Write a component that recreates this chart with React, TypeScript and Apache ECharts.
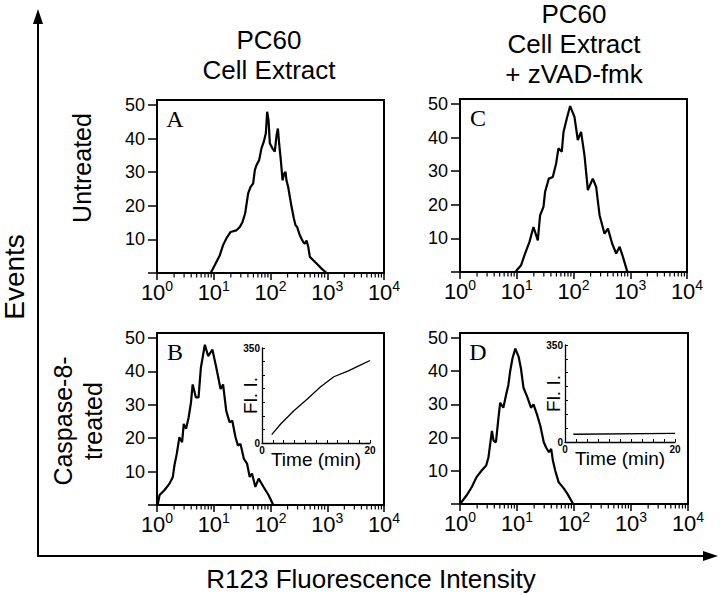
import React, { useEffect, useRef } from "react";
import * as echarts from "echarts";

// ---------- DATA ----------
// Panel A: PC60 cell extract, untreated
const intensityA = [8.85, 10.4, 12.8, 14.6, 17.2, 19.7, 25.1, 28.8, 32.1, 35.7, 40.4, 44.4, 49.4, 53.0, 56.6, 63.1, 69.3, 76.2, 82.8, 87.3, 92.3, 97.3, 108, 119, 128, 135, 142, 152, 163, 174, 184, 191, 205, 219, 235, 258, 276, 295, 321, 352, 377, 404, 432, 462, 494, 566, 649, 794, 973];
const eventsA = [0, 2.3, 5.3, 8.3, 10.7, 12.2, 12.7, 13.7, 15.2, 17.7, 23.7, 25.6, 26.6, 30.6, 32.1, 33.6, 37.1, 39.1, 41.6, 48.0, 45.5, 38.6, 37.1, 36.1, 41.1, 43.0, 38.6, 33.6, 27.6, 29.6, 30.1, 27.6, 25.6, 22.7, 19.7, 16.2, 14.2, 13.7, 11.7, 10.2, 9.2, 8.7, 9.7, 7.8, 4.8, 3.8, 2.8, 1.3, 0];

// Panel B: PC60 cell extract, caspase-8-treated
const intensityB = [1.0, 1.04, 1.11, 1.36, 1.66, 1.9, 2.03, 2.23, 2.48, 2.77, 2.96, 3.25, 3.61, 3.97, 4.25, 4.85, 5.4, 5.93, 6.97, 7.96, 9.48, 11.1, 13.2, 14.6, 16.6, 19.0, 21.2, 24.2, 26.6, 29.6, 33.8, 38.6, 43.0, 47.2, 54.1, 61.8, 75.5, 92.3, 108, 113];
const eventsB = [0, 0.5, 3.0, 4.5, 6.4, 8.4, 11.9, 15.3, 20.3, 18.8, 24.3, 22.8, 26.2, 30.7, 36.1, 32.2, 32.2, 41.1, 48.0, 44.6, 46.5, 41.1, 34.7, 36.1, 28.2, 24.8, 25.2, 20.3, 17.8, 18.3, 13.9, 12.4, 8.4, 9.4, 5.4, 7.9, 5.4, 3.0, 0.5, 0];

// Panel C: PC60 cell extract + zVAD-fmk, untreated
const intensityC = [9.5, 10, 11.9, 13.7, 16.7, 19.7, 23.5, 25.8, 29.6, 31.6, 36.7, 43.2, 49.4, 54.3, 62.2, 66.7, 76.2, 87.3, 104, 119, 136, 156, 179, 219, 251, 288, 352, 404, 481, 566, 649, 743, 873, 910];
const eventsC = [0, 0.5, 2.0, 5.0, 8.9, 13.4, 9.4, 16.9, 19.4, 23.9, 27.8, 28.3, 32.3, 36.8, 35.8, 41.7, 45.7, 49.4, 46.2, 39.3, 41.7, 34.8, 24.4, 27.8, 25.3, 16.9, 11.4, 12.9, 8.4, 5.5, 7.5, 4.5, 0.5, 0];

// Panel D: PC60 cell extract + zVAD-fmk, caspase-8-treated
const intensityD = [1.0, 1.32, 1.62, 1.95, 2.4, 2.88, 3.16, 3.63, 3.89, 4.27, 4.73, 5.07, 5.75, 6.46, 7.08, 7.59, 8.32, 9.33, 10.7, 11.7, 13.0, 15.0, 17.6, 19.5, 22.4, 25.7, 29.5, 32.4, 36.3, 39.8, 42.7, 46.8, 53.7, 66.1, 75.9, 96.6];
const eventsD = [0, 2.7, 5.2, 8.1, 10.1, 11.6, 14.1, 22.0, 19.0, 18.6, 26.0, 30.5, 29.0, 33.0, 36.0, 40.0, 43.8, 46.8, 44.3, 40.9, 35.0, 32.4, 29.0, 30.0, 27.0, 23.5, 18.6, 17.0, 15.6, 16.6, 13.0, 10.1, 6.6, 4.7, 3.2, 0];

// Insets: fluorescence intensity vs time
const timeB = [1.8, 3.5, 5.9, 8.4, 10.8, 13.3, 16.0, 18.2, 20];
const fluorB = [31, 71, 119, 162, 206, 244, 266, 287, 304];
const timeD = [1.5, 20];
const fluorD = [28, 31];

// Tick values / labels
const eventTicks = [0, 10, 20, 30, 40, 50];
const eventLabels = [10, 20, 30, 40, 50];
const decades = [1, 10, 100, 1000];
const minorFactors = [2, 3, 4, 5, 6, 7, 8, 9];
const insetTimeLabels = [0, 20];
const insetFluorLabels = [0, 350];

const panelLetters = ["A", "B", "C", "D"];
const leftHeader = ["PC60", "Cell Extract"];
const rightHeader = ["PC60", "Cell Extract", "+ zVAD-fmk"];

const SANS = "'Liberation Sans', Arial, Helvetica, sans-serif";
const SERIF = "'Liberation Serif', 'Times New Roman', serif";

const minorTicks: number[] = [];
decades.forEach((d) => minorFactors.forEach((f) => minorTicks.push(d * f)));

function pairs(xs: number[], ys: number[]) {
  return xs.map((x, i) => [x, ys[i]]);
}

export default function App() {
  const ref = useRef<HTMLDivElement>(null);

  useEffect(() => {
    if (!ref.current) return;
    const chart = echarts.init(ref.current, undefined, { renderer: "svg" });

    const panels = [
      { letter: panelLetters[0], grid: { left: 157, top: 100, width: 227, height: 173 }, x: intensityA, y: eventsA },
      { letter: panelLetters[1], grid: { left: 157, top: 333, width: 227, height: 172 }, x: intensityB, y: eventsB },
      { letter: panelLetters[2], grid: { left: 460, top: 99, width: 227, height: 173 }, x: intensityC, y: eventsC },
      { letter: panelLetters[3], grid: { left: 460, top: 333, width: 228, height: 171 }, x: intensityD, y: eventsD },
    ];
    const insets = [
      { grid: { left: 262, top: 348, width: 108, height: 95 }, x: timeB, y: fluorB },
      { grid: { left: 565, top: 345, width: 110, height: 97 }, x: timeD, y: fluorD },
    ];

    const grids: any[] = [];
    const xAxes: any[] = [];
    const yAxes: any[] = [];
    const series: any[] = [];

    panels.forEach((p, i) => {
      grids.push({ ...p.grid, show: true, borderColor: "#000", borderWidth: 2, backgroundColor: "transparent" });
      xAxes.push({
        gridIndex: i,
        type: "log",
        logBase: 10,
        min: 1,
        max: 10000,
        axisLine: { lineStyle: { color: "#000", width: 2 } },
        axisTick: { length: 7, lineStyle: { color: "#000", width: 1.5 } },
        splitLine: { show: false },
        minorTick: { show: false },
        axisLabel: {
          margin: 6,
          formatter: (v: number) => `{b|10}{s|${Math.round(Math.log10(v))}}`,
          rich: {
            b: { fontSize: 22, fontFamily: SANS, color: "#000", lineHeight: 26 },
            s: { fontSize: 14, fontFamily: SANS, color: "#000", lineHeight: 14, verticalAlign: "top" },
          },
        },
      });
      yAxes.push({
        gridIndex: i,
        type: "value",
        min: 0,
        max: 51.5,
        interval: 10,
        axisLine: { show: true, lineStyle: { color: "#000", width: 2 } },
        axisTick: { show: true, length: 9, customValues: eventTicks, lineStyle: { color: "#000", width: 1.5 } },
        splitLine: { show: false },
        axisLabel: {
          customValues: eventLabels,
          margin: 12,
          fontSize: 18,
          fontFamily: SANS,
          color: "#000",
        },
      });
      series.push({
        type: "line",
        xAxisIndex: i,
        yAxisIndex: i,
        data: pairs(p.x, p.y),
        showSymbol: false,
        symbol: "none",
        lineStyle: { color: "#000", width: 2.2 },
        silent: true,
      });
      series.push({
        type: "custom",
        xAxisIndex: i,
        yAxisIndex: i,
        silent: true,
        clip: false,
        data: minorTicks.map((v) => [v, 0]),
        renderItem: (_params: any, api: any) => {
          const pt = api.coord([api.value(0), api.value(1)]);
          return {
            type: "line",
            shape: { x1: pt[0], y1: pt[1], x2: pt[0], y2: pt[1] + 4.5 },
            style: { stroke: "#000", lineWidth: 1.2 },
          };
        },
      });
    });

    insets.forEach((ins, k) => {
      const gi = panels.length + k;
      grids.push({ ...ins.grid, show: false });
      xAxes.push({
        gridIndex: gi,
        type: "value",
        min: 0,
        max: 20,
        interval: 2,
        name: "Time (min)",
        nameLocation: "middle",
        nameGap: 7,
        nameMoveOverlap: false,
        nameTextStyle: { fontSize: 19, fontFamily: SANS, color: "#000", verticalAlign: "top" },
        axisLine: { lineStyle: { color: "#000", width: 1.3 } },
        axisTick: { inside: true, length: 3, lineStyle: { color: "#000", width: 1 } },
        splitLine: { show: false },
        axisLabel: {
          customValues: insetTimeLabels,
          margin: 2,
          fontSize: 10,
          fontWeight: "bold",
          fontFamily: SANS,
          color: "#000",
        },
      });
      yAxes.push({
        gridIndex: gi,
        type: "value",
        min: 0,
        max: 350,
        interval: 50,
        name: "Fl. I.",
        nameLocation: "middle",
        nameRotate: 90,
        nameGap: 2,
        nameMoveOverlap: false,
        nameTextStyle: { fontSize: 19, fontFamily: SANS, color: "#000" },
        axisLine: { show: true, lineStyle: { color: "#000", width: 1.3 } },
        axisTick: { show: true, inside: true, length: 3, lineStyle: { color: "#000", width: 1 } },
        splitLine: { show: false },
        axisLabel: {
          customValues: insetFluorLabels,
          margin: 2,
          fontSize: 10,
          fontWeight: "bold",
          fontFamily: SANS,
          color: "#000",
        },
      });
      series.push({
        type: "line",
        xAxisIndex: gi,
        yAxisIndex: gi,
        data: pairs(ins.x, ins.y),
        showSymbol: false,
        symbol: "none",
        lineStyle: { color: "#000", width: 1.3 },
        silent: true,
      });
    });

    const txt = (text: string, x: number, y: number, size: number, extra: any = {}) => ({
      type: "text",
      x,
      y,
      ...extra,
      style: {
        text,
        fontSize: size,
        fontFamily: SANS,
        fill: "#000",
        align: "center",
        verticalAlign: "middle",
        ...(extra.style || {}),
      },
    });

    const graphics: any[] = [
      // outer axes
      { type: "line", shape: { x1: 38, y1: 557, x2: 38, y2: 20 }, style: { stroke: "#000", lineWidth: 2 } },
      { type: "polygon", shape: { points: [[38, 9], [33, 24], [43, 24]] }, style: { fill: "#000" } },
      { type: "line", shape: { x1: 37, y1: 556, x2: 706, y2: 556 }, style: { stroke: "#000", lineWidth: 2 } },
      { type: "polygon", shape: { points: [[718, 556], [703, 551], [703, 561]] }, style: { fill: "#000" } },
      txt("Events", 14, 277, 28, { rotation: Math.PI / 2 }),
      txt("R123 Fluorescence Intensity", 371, 579, 26),
      txt("Untreated", 82, 168, 25, { rotation: Math.PI / 2 }),
      txt("Caspase-8-", 63, 421, 25, { rotation: Math.PI / 2 }),
      txt("treated", 93, 421, 25, { rotation: Math.PI / 2 }),
      txt(leftHeader[0], 269, 40, 26),
      txt(leftHeader[1], 269, 70, 26),
      txt(rightHeader[0], 574, 14, 26),
      txt(rightHeader[1], 574, 44, 26),
      txt(rightHeader[2], 574, 74, 26),
    ];
    panels.forEach((p) => {
      graphics.push({
        type: "text",
        x: p.grid.left + 18,
        y: p.grid.top + 19,
        style: { text: p.letter, fontSize: 24, fontFamily: SERIF, fill: "#000", align: "center", verticalAlign: "middle" },
      });
    });

    chart.setOption({
      animation: false,
      backgroundColor: "#fff",
      grid: grids,
      xAxis: xAxes,
      yAxis: yAxes,
      series,
      graphic: graphics,
    });

    return () => chart.dispose();
  }, []);

  return (
    <div
      ref={ref}
      style={{ position: "fixed", left: 0, top: 0, width: 720, height: 595, background: "#fff" }}
    />
  );
}
